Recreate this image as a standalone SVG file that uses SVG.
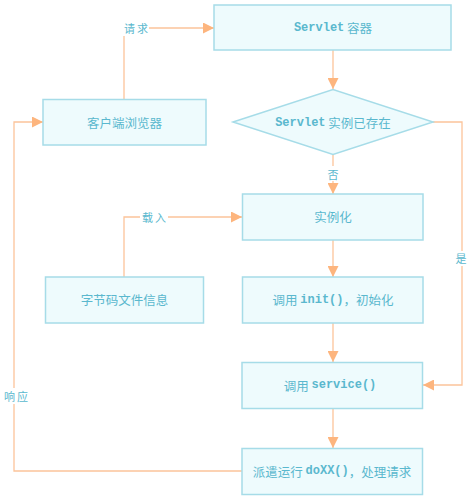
<svg xmlns="http://www.w3.org/2000/svg" width="469" height="498" viewBox="0 0 469 498">
<style>
.box{fill:#EEFBFD;stroke:#A6DCE8;stroke-width:1.5}
.t{font-family:"Noto Sans CJK SC","Liberation Sans",sans-serif;font-size:12.5px;fill:#5AB8CE;text-anchor:middle;dominant-baseline:central}
.m{font-family:"Liberation Mono",monospace;font-weight:bold;font-size:12px}
.ln{fill:none;stroke:#FCC49A;stroke-width:1.3}
.lb{font-family:"Noto Sans CJK SC","Liberation Sans",sans-serif;font-size:11px;fill:#5AB8CE;text-anchor:middle;dominant-baseline:central;letter-spacing:2px}
</style>
<defs>
<marker id="ar" viewBox="0 0 11 11" refX="11" refY="5.5" markerWidth="11" markerHeight="11" markerUnits="userSpaceOnUse" orient="auto">
<path d="M0,0 L11,5.5 L0,11 z" fill="#FDB57E"/>
</marker>
</defs>
<rect width="469" height="498" fill="#fff"/>
<g id="connectors">
<path class="ln" d="M124,99 V28 H214" marker-end="url(#ar)"/>
<path class="ln" d="M333,50 V89" marker-end="url(#ar)"/>
<path class="ln" d="M333,155 V194" marker-end="url(#ar)"/>
<path class="ln" d="M433,122 H462 V385 H423" marker-end="url(#ar)"/>
<path class="ln" d="M124,277 V217 H242" marker-end="url(#ar)"/>
<path class="ln" d="M333,240 V277" marker-end="url(#ar)"/>
<path class="ln" d="M333,323 V362" marker-end="url(#ar)"/>
<path class="ln" d="M333,409 V448" marker-end="url(#ar)"/>
<path class="ln" d="M242,471 H14 V122 H43" marker-end="url(#ar)"/>
<rect x="123" y="20" width="26" height="16" fill="#fff"/>
<text class="lb" x="137" y="28">请求</text>
<rect x="140" y="209" width="28" height="16" fill="#fff"/>
<text class="lb" x="155" y="217">载入</text>
<rect x="326" y="166" width="14" height="15" fill="#fff"/>
<text class="lb" x="334" y="173.5">否</text>
<rect x="455" y="251" width="14" height="15" fill="#fff"/>
<text class="lb" x="462" y="258">是</text>
<rect x="3" y="388" width="26" height="16" fill="#fff"/>
<text class="lb" x="17" y="396">响应</text>
</g>
<g id="servlet-container">
<rect class="box" x="214" y="5" width="237" height="45"/>
<text class="t" x="333" y="27.5"><tspan class="m">Servlet</tspan> 容器</text>
</g>
<g id="client-browser">
<rect class="box" x="43" y="99.5" width="163" height="45.5"/>
<text class="t" x="124.5" y="122">客户端浏览器</text>
</g>
<g id="instance-exists">
<polygon class="box" points="233,122 333,89.5 433,122 333,154.5"/>
<text class="t" x="333" y="122.5"><tspan class="m">Servlet</tspan> 实例已存在</text>
</g>
<g id="instantiate">
<rect class="box" x="242.5" y="194" width="180.5" height="46"/>
<text class="t" x="333" y="216.5">实例化</text>
</g>
<g id="bytecode">
<rect class="box" x="45.5" y="277" width="158" height="46"/>
<text class="t" x="124.5" y="299.5">字节码文件信息</text>
</g>
<g id="init">
<rect class="box" x="242.5" y="277" width="180.5" height="46"/>
<text class="t" x="333" y="299.5">调用 <tspan class="m">init()</tspan>，初始化</text>
</g>
<g id="service">
<rect class="box" x="242" y="362.5" width="180.5" height="46"/>
<text class="t" x="330" y="385">调用 <tspan class="m">service()</tspan></text>
</g>
<g id="doxx">
<rect class="box" x="242" y="448.5" width="180.5" height="46"/>
<text class="t" x="332" y="471">派遣运行 <tspan class="m">doXX()</tspan>，处理请求</text>
</g>
</svg>
